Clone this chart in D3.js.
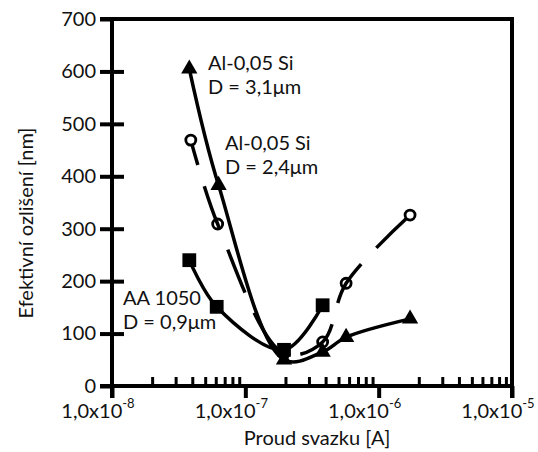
<!DOCTYPE html>
<html>
<head>
<meta charset="utf-8">
<script src="https://cdn.jsdelivr.net/npm/d3@7"></script>
<style>
  html, body { margin: 0; padding: 0; background: #fff; }
  svg { display: block; font-family: Lato, "Open Sans", sans-serif; }
</style>
</head>
<body>
<svg id="chart" width="538" height="452"></svg>
<script>
// ---- data ----
const xMajorTicks = [1e-8, 1e-7, 1e-6, 1e-5];
const xTickMantissa = "1,0x10";
const xTickExponents = ["-8", "-7", "-6", "-5"];
const yTicks = [0, 100, 200, 300, 400, 500, 600, 700];

// Al-0,05 Si, D = 3,1 µm (triangles, solid)
const triCurrent = [3.8e-8, 6.3e-8, 1.95e-7, 3.8e-7, 5.7e-7, 1.72e-6];
const triRes     = [605, 383, 50, 65, 93, 128];
// Al-0,05 Si, D = 2,4 µm (open circles, dashed)
const circCurrent = [3.9e-8, 6.2e-8, 1.95e-7, 3.8e-7, 5.7e-7, 1.72e-6];
const circRes     = [469, 309, 62, 84, 196, 326];
// AA 1050, D = 0,9 µm (squares, solid)
const sqCurrent = [3.8e-8, 6.1e-8, 1.95e-7, 3.8e-7];
const sqRes     = [240, 151, 69, 154];

const xTitle = "Proud svazku [A]";
const yTitle = "Efektivní ozlišení [nm]";

// ---- layout ----
const svg = d3.select("#chart");
const pL = 112, pR = 512, pT = 19, pB = 386;
const x = d3.scaleLog().domain([1e-8, 1e-5]).range([pL, pR]);
const y = d3.scaleLinear().domain([0, 700]).range([pB, pT]);
const AX = 4;

// frame: top and right
svg.append("line").attr("x1", 100).attr("x2", pR + 2).attr("y1", pT).attr("y2", pT)
  .attr("stroke", "#000").attr("stroke-width", AX);
svg.append("line").attr("x1", pR).attr("x2", pR).attr("y1", pT).attr("y2", pB + 12)
  .attr("stroke", "#000").attr("stroke-width", AX);

// y axis
const yAxisL = svg.append("g").attr("transform", `translate(${pL},0)`)
  .call(d3.axisLeft(y).tickValues(yTicks).tickSize(12).tickFormat(d3.format("d")));
const yAxisR = svg.append("g").attr("transform", `translate(${pL},0)`)
  .call(d3.axisRight(y).tickValues(yTicks.slice(1, -1)).tickSize(12).tickFormat(""));
[yAxisL, yAxisR].forEach(g => {
  g.select(".domain").remove();
  g.selectAll(".tick line").attr("stroke", "#000").attr("stroke-width", AX);
});
yAxisL.selectAll(".tick text").attr("x", -16).attr("font-size", 20)
  .attr("font-family", "Lato, sans-serif").attr("fill", "#111");
svg.append("line").attr("x1", pL).attr("x2", pL).attr("y1", pT - 2).attr("y2", pB + 12)
  .attr("stroke", "#000").attr("stroke-width", AX);

// x axis
const minorTicks = [];
for (let e = -8; e < -5; e++) for (let m = 2; m <= 9; m++) minorTicks.push(m * Math.pow(10, e));
const xMinor = svg.append("g").attr("transform", `translate(0,${pB})`)
  .call(d3.axisBottom(x).tickValues(minorTicks).tickSize(-9).tickFormat(""));
const xMajor = svg.append("g").attr("transform", `translate(0,${pB})`)
  .call(d3.axisBottom(x).tickValues(xMajorTicks).tickSize(12).tickFormat(""));
[xMinor, xMajor].forEach(g => {
  g.select(".domain").remove();
});
xMinor.selectAll(".tick line").attr("stroke", "#000").attr("stroke-width", 3);
xMajor.selectAll(".tick line").attr("stroke", "#000").attr("stroke-width", AX);
svg.append("line").attr("x1", 100).attr("x2", pR + 2).attr("y1", pB).attr("y2", pB)
  .attr("stroke", "#000").attr("stroke-width", AX);

// x tick labels with superscripts
xMajorTicks.forEach((v, i) => {
  const t = svg.append("text").attr("x", x(v) - 14).attr("y", 418)
    .attr("text-anchor", "middle").attr("font-size", 20).attr("fill", "#111");
  t.append("tspan").text(xTickMantissa);
  t.append("tspan").attr("font-size", 13).attr("dy", -10).text(xTickExponents[i]);
});

// axis titles
svg.append("text").attr("x", 317).attr("y", 445).attr("text-anchor", "middle")
  .attr("font-size", 20).attr("fill", "#111").text(xTitle);
svg.append("text").attr("transform", "translate(33,223) rotate(-90)")
  .attr("text-anchor", "middle").attr("font-size", 20).attr("fill", "#111").text(yTitle);

// ---- series ----
const line = d3.line().x(d => x(d[0])).y(d => y(d[1])).curve(d3.curveCatmullRom.alpha(0.5));
const circData = circCurrent.map((c, i) => [c, circRes[i]]);
const triData = triCurrent.map((c, i) => [c, triRes[i]]);
const sqData = sqCurrent.map((c, i) => [c, sqRes[i]]);

svg.append("path").attr("d", line(circData)).attr("fill", "none").attr("stroke", "#000")
  .attr("stroke-width", 3.5).attr("stroke-dasharray", "46,22").attr("stroke-dashoffset", 20);
svg.append("path").attr("d", line(triData)).attr("fill", "none").attr("stroke", "#000")
  .attr("stroke-width", 3.5);
svg.append("path").attr("d", line(sqData)).attr("fill", "none").attr("stroke", "#000")
  .attr("stroke-width", 3.5);

// markers
svg.append("g").selectAll("circle").data(circData).join("circle")
  .attr("cx", d => x(d[0])).attr("cy", d => y(d[1])).attr("r", 5)
  .attr("fill", (d, i) => (i === 0 || i === circData.length - 1) ? "#fff" : "none")
  .attr("stroke", "#000").attr("stroke-width", 2.8);
svg.append("g").selectAll("path").data(triData).join("path")
  .attr("transform", d => `translate(${x(d[0])},${y(d[1])})`)
  .attr("d", d3.symbol(d3.symbolTriangle, 115)).attr("fill", "#000");
svg.append("g").selectAll("path").data(sqData).join("path")
  .attr("transform", d => `translate(${x(d[0])},${y(d[1])})`)
  .attr("d", d3.symbol(d3.symbolSquare, 190)).attr("fill", "#000");

// annotations
const notes = [
  { x: 208, y: 70, lines: ["Al-0,05 Si", "D = 3,1μm"] },
  { x: 225, y: 150, lines: ["Al-0,05 Si", "D = 2,4μm"] },
  { x: 123, y: 305, lines: ["AA 1050", "D = 0,9μm"] }
];
notes.forEach(n => {
  n.lines.forEach((s, i) => {
    svg.append("text").attr("x", n.x).attr("y", n.y + i * 24)
      .attr("font-size", 20).attr("fill", "#111").text(s);
  });
});
</script>
</body>
</html>
